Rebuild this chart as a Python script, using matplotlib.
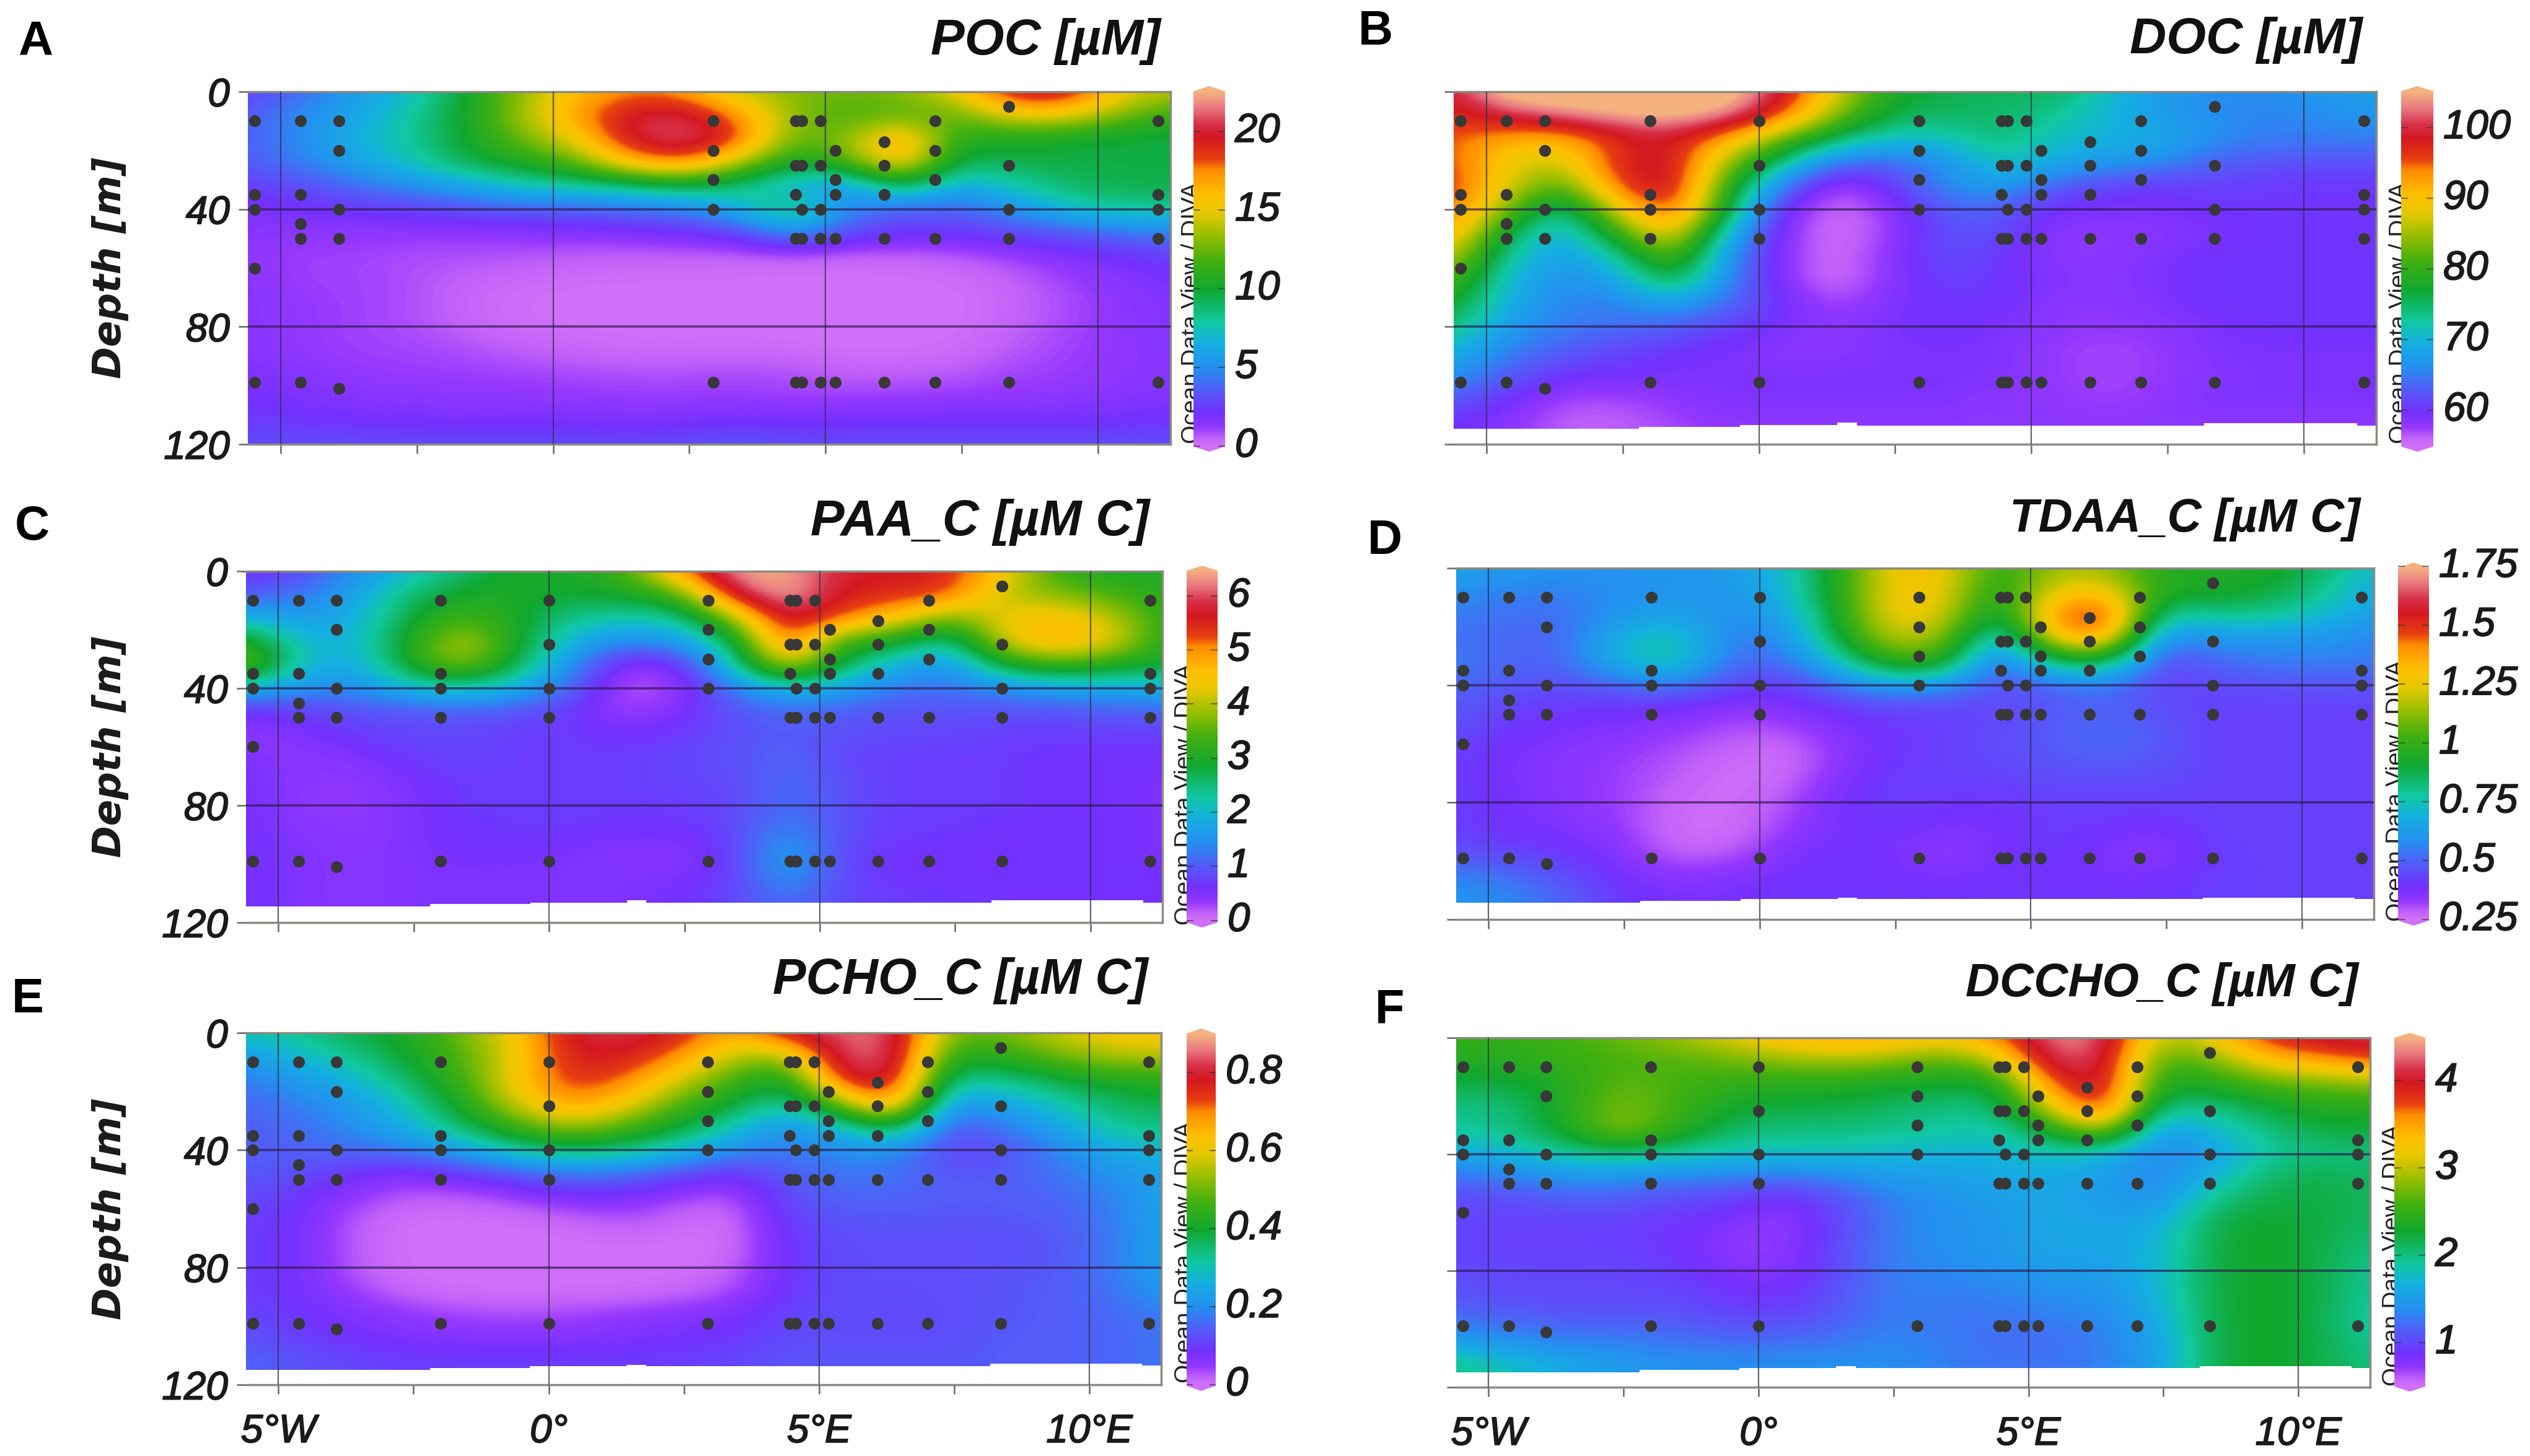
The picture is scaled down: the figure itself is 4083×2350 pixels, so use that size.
import numpy as np
import matplotlib
matplotlib.use("Agg")
import matplotlib.pyplot as plt
import matplotlib.patheffects as pe
from matplotlib.colors import LinearSegmentedColormap
from matplotlib.patches import Polygon

plt.rcParams['font.family'] = ['Liberation Sans', 'DejaVu Sans']

W, H = 4083, 2350

# grid of the fields: longitude columns and depth rows
lon_nodes = [-5.6, -4.6, -3.6, -2.6, -1.6, -0.6, 0.4, 1.4, 2.4, 3.4, 4.4, 5.4, 6.4, 7.4, 8.4, 9.4, 10.4, 11.4]
depth_nodes = [0, 8, 16, 24, 32, 40, 48, 56, 64, 72, 80, 88, 96, 104, 112, 120]

poc = [
    [2.5, 4, 5.5, 7, 10, 13, 16, 17.5, 17, 14, 13, 12.5, 13, 15, 20, 20.5, 15, 14],
    [3.5, 5, 6, 8, 10, 13.5, 17, 20, 20.5, 17.5, 13, 11.5, 12, 12, 15, 15, 13, 11],
    [3.5, 5, 6.5, 8, 10, 12.5, 15, 20, 21.5, 19, 12, 13, 18, 10.5, 10.5, 10, 9.5, 9.5],
    [3.5, 4.5, 6, 7.5, 9.5, 10.5, 12, 16.5, 18, 14, 10, 12, 17, 9, 9.5, 9.5, 9.5, 9.5],
    [2.5, 3, 4, 5, 6, 7.5, 8, 8.5, 9.5, 8.5, 6, 5, 10, 6, 7.5, 9, 9.5, 9.5],
    [1.8, 2, 2.3, 2.5, 3, 3.5, 3.5, 4, 4.5, 6.5, 10, 4.5, 3.5, 3.5, 5, 7, 8, 8],
    [1.5, 1.3, 1.3, 1.2, 1.2, 1.3, 1.5, 1.5, 2, 2.5, 5.5, 3, 2.3, 2.3, 2.8, 3.2, 4, 4.5],
    [1.3, 1, 1, 0.8, 0.8, 0.7, 0.5, 0.4, 0.4, 0.3, 0.3, 0.2, 0.3, 0.5, 1, 1.5, 2, 2.5],
    [1.5, 1, 1, 0.8, 0.4, 0.2, 0.1, 0.05, 0.05, 0.05, 0, 0, 0, 0.05, 0.4, 1, 1.5, 2],
    [1.5, 1.2, 1, 0.8, 0.3, 0.05, 0, 0, 0, 0, 0, 0, 0, 0, 0.3, 0.8, 1.3, 1.7],
    [1.5, 1.2, 1, 0.8, 0.4, 0.1, 0.05, 0, 0, 0, 0, 0, 0, 0, 0.4, 0.9, 1.3, 1.7],
    [1.5, 1.2, 1, 1, 0.8, 0.5, 0.3, 0.15, 0.15, 0.2, 0.1, 0, 0, 0.1, 0.6, 1, 1.3, 1.6],
    [1.8, 1.5, 1.2, 1.1, 1.1, 1, 0.9, 0.8, 0.8, 0.9, 0.8, 0.5, 0.5, 0.6, 1, 1.1, 1.3, 1.5],
    [2, 1.8, 1.5, 1.4, 1.3, 1.3, 1.2, 1.1, 1.1, 1.1, 1, 1, 1.1, 1.2, 1.2, 1.3, 1.5, 1.7],
    [2.5, 2.2, 2, 1.9, 1.8, 1.8, 1.8, 1.7, 1.8, 1.9, 1.9, 2, 2, 2, 2, 2, 2, 2.2],
    [3, 3, 3, 3, 3, 3, 3, 3, 3, 3.5, 3, 3, 3, 3, 3, 3, 3, 3],
]
doc = [
    [99, 108, 108, 108, 108, 108, 100, 88, 78, 76, 75, 76, 71, 67, 66, 66, 67, 68],
    [97, 100, 103, 105, 106, 104, 96, 84, 76, 75, 75, 73, 70, 67, 66, 65, 66, 67],
    [95, 92, 91, 97, 99, 92, 83, 75, 71, 71, 75, 71, 70, 69, 66, 65, 65, 65],
    [96, 88, 86, 98, 100, 85, 74, 64, 63, 66, 72, 69, 67, 66, 63, 62, 62, 62],
    [97, 88, 80, 96, 101, 80, 65, 56, 60, 66, 68, 63, 61, 60, 61, 60, 60, 60],
    [96, 83, 72, 88, 98, 78, 59, 55, 57.5, 63, 63, 59, 59, 59, 60, 60, 60, 60],
    [92, 76, 68, 80, 92, 70, 58, 55, 57, 62, 62, 58, 58, 58, 59, 60, 60, 60],
    [87, 72, 67, 72, 84, 67, 58, 55, 58, 62, 60, 58, 58, 59, 60, 60, 60, 60],
    [82, 70, 66, 68, 78, 66, 58, 55, 58, 61, 60, 59, 58, 59, 60, 60, 60, 60],
    [78, 69, 65, 65, 68, 64, 60, 56.5, 59, 60, 60, 58, 58, 59, 60, 60, 60, 60],
    [75, 67, 65, 64, 63, 61, 59, 58, 59, 60, 59, 58, 57.5, 58, 59, 60, 60, 60],
    [70, 65, 63, 61, 60, 59, 58, 58, 59, 59, 59, 57.5, 57, 57.5, 59, 59, 59, 59],
    [67, 63, 60, 60, 59, 59, 59, 59, 59, 59, 59, 57.5, 57, 57.5, 58.5, 59, 59, 59],
    [63, 60, 57, 57, 58, 59, 59, 59, 59, 59, 58, 58, 57, 58, 59, 59, 59, 59],
    [60, 58, 56, 56, 57, 58, 58, 58, 58, 58, 58, 58, 58, 58, 58, 58, 58, 58],
    [60, 58, 56, 56, 57, 58, 58, 58, 58, 58, 58, 58, 58, 58, 58, 58, 58, 58],
]
paa = [
    [0.5, 0.8, 1.4, 2, 2.5, 3, 3, 3.3, 5, 6.5, 6.5, 5.7, 5.7, 5.5, 4.5, 3.2, 3, 3],
    [1, 1.2, 1.7, 2.5, 3, 3, 2.8, 3, 3.3, 5.8, 6.6, 5.6, 5.5, 5.4, 4, 3.7, 3.4, 3.1],
    [1.9, 1.6, 1.8, 2.8, 3.4, 3, 2.4, 2.2, 2.3, 3.8, 6, 5.2, 4.6, 3.5, 4.4, 4.7, 4.1, 3.1],
    [3.2, 2, 1.9, 3, 4.2, 3, 1.9, 1.4, 1.6, 2.6, 5.6, 3.2, 3, 2.2, 4.3, 4.9, 4.4, 3],
    [3.8, 2.1, 1.7, 3, 4, 2.7, 1.5, 0.3, 0.5, 2.2, 4.5, 2.7, 1.9, 1.4, 3, 3.4, 3.1, 2.9],
    [2, 1.5, 1.4, 2, 2.2, 1.9, 1.1, 0.1, 0.25, 1.3, 2, 1.7, 1.2, 1.2, 1.4, 1.7, 1.8, 1.8],
    [0.5, 0.7, 0.9, 0.9, 1, 0.9, 0.7, 0.25, 0.5, 0.9, 1.1, 1, 0.9, 0.9, 0.9, 0.9, 1, 1.1],
    [0.4, 0.45, 0.7, 0.8, 0.8, 0.7, 0.7, 0.6, 0.7, 0.9, 1, 0.9, 0.8, 0.8, 0.7, 0.7, 0.7, 0.7],
    [0.5, 0.4, 0.45, 0.7, 0.8, 0.7, 0.7, 0.7, 0.8, 0.9, 1.1, 0.8, 0.7, 0.7, 0.7, 0.6, 0.6, 0.6],
    [0.6, 0.4, 0.35, 0.5, 0.7, 0.7, 0.7, 0.7, 0.8, 0.8, 1.2, 0.9, 0.7, 0.7, 0.7, 0.6, 0.6, 0.5],
    [0.6, 0.35, 0.35, 0.5, 0.7, 0.7, 0.7, 0.7, 0.7, 0.8, 1.2, 0.9, 0.7, 0.7, 0.7, 0.6, 0.6, 0.5],
    [0.6, 0.45, 0.35, 0.5, 0.6, 0.7, 0.7, 0.6, 0.6, 0.8, 1.4, 0.9, 0.7, 0.7, 0.6, 0.6, 0.6, 0.5],
    [0.6, 0.5, 0.4, 0.5, 0.6, 0.6, 0.5, 0.45, 0.4, 0.7, 1.8, 0.8, 0.6, 0.6, 0.6, 0.6, 0.6, 0.5],
    [0.6, 0.5, 0.4, 0.5, 0.5, 0.5, 0.5, 0.5, 0.5, 0.7, 1.7, 0.8, 0.6, 0.6, 0.6, 0.6, 0.6, 0.6],
    [0.6, 0.5, 0.4, 0.5, 0.5, 0.5, 0.5, 0.5, 0.6, 0.8, 1.2, 0.8, 0.7, 0.7, 0.6, 0.6, 0.6, 0.6],
    [0.6, 0.5, 0.4, 0.5, 0.5, 0.5, 0.5, 0.5, 0.6, 0.8, 1.2, 0.8, 0.7, 0.7, 0.6, 0.6, 0.6, 0.6],
]
tdaa = [
    [0.65, 0.62, 0.6, 0.6, 0.6, 0.62, 0.7, 0.95, 1.27, 1.3, 0.95, 1.15, 1.15, 0.95, 0.95, 0.95, 0.85, 0.7],
    [0.58, 0.55, 0.55, 0.58, 0.6, 0.6, 0.68, 0.95, 1.28, 1.28, 0.9, 1.25, 1.3, 0.95, 0.95, 0.9, 0.8, 0.65],
    [0.55, 0.52, 0.52, 0.6, 0.65, 0.58, 0.62, 0.92, 1.28, 1.25, 0.8, 1.45, 1.6, 0.75, 0.8, 0.8, 0.72, 0.62],
    [0.52, 0.5, 0.5, 0.7, 0.78, 0.55, 0.55, 0.88, 1.2, 1.15, 0.6, 1.3, 1.4, 0.55, 0.6, 0.6, 0.6, 0.55],
    [0.55, 0.5, 0.5, 0.7, 0.8, 0.52, 0.5, 0.72, 1, 1, 0.45, 0.85, 0.9, 0.42, 0.5, 0.55, 0.55, 0.55],
    [0.5, 0.48, 0.45, 0.5, 0.55, 0.45, 0.4, 0.52, 0.65, 0.6, 0.45, 0.5, 0.55, 0.42, 0.45, 0.45, 0.47, 0.47],
    [0.48, 0.42, 0.4, 0.4, 0.38, 0.33, 0.35, 0.4, 0.42, 0.42, 0.43, 0.47, 0.5, 0.45, 0.42, 0.42, 0.42, 0.42],
    [0.45, 0.4, 0.37, 0.35, 0.33, 0.3, 0.29, 0.35, 0.4, 0.42, 0.45, 0.48, 0.52, 0.48, 0.42, 0.42, 0.42, 0.42],
    [0.42, 0.37, 0.35, 0.33, 0.3, 0.27, 0.25, 0.33, 0.4, 0.42, 0.45, 0.47, 0.5, 0.47, 0.42, 0.42, 0.42, 0.42],
    [0.42, 0.37, 0.35, 0.32, 0.29, 0.25, 0.26, 0.35, 0.42, 0.42, 0.42, 0.45, 0.45, 0.45, 0.42, 0.42, 0.42, 0.42],
    [0.42, 0.38, 0.35, 0.32, 0.27, 0.25, 0.29, 0.38, 0.42, 0.4, 0.4, 0.42, 0.42, 0.42, 0.42, 0.42, 0.42, 0.42],
    [0.42, 0.38, 0.37, 0.33, 0.26, 0.25, 0.31, 0.38, 0.4, 0.37, 0.37, 0.42, 0.4, 0.38, 0.43, 0.42, 0.42, 0.42],
    [0.45, 0.42, 0.4, 0.35, 0.27, 0.27, 0.35, 0.4, 0.38, 0.33, 0.38, 0.42, 0.36, 0.33, 0.42, 0.42, 0.42, 0.42],
    [0.55, 0.5, 0.45, 0.38, 0.33, 0.35, 0.38, 0.4, 0.38, 0.36, 0.38, 0.4, 0.37, 0.37, 0.42, 0.42, 0.42, 0.42],
    [0.6, 0.57, 0.5, 0.4, 0.38, 0.38, 0.4, 0.4, 0.4, 0.4, 0.4, 0.4, 0.4, 0.4, 0.42, 0.42, 0.42, 0.42],
    [0.6, 0.57, 0.5, 0.4, 0.38, 0.38, 0.4, 0.4, 0.4, 0.4, 0.4, 0.4, 0.4, 0.4, 0.42, 0.42, 0.42, 0.42],
]
pcho = [
    [0.3, 0.33, 0.38, 0.42, 0.5, 0.62, 0.8, 0.82, 0.78, 0.65, 0.8, 0.85, 0.85, 0.5, 0.5, 0.58, 0.62, 0.64],
    [0.22, 0.28, 0.33, 0.4, 0.48, 0.6, 0.78, 0.78, 0.7, 0.55, 0.52, 0.85, 0.85, 0.42, 0.44, 0.5, 0.55, 0.55],
    [0.17, 0.22, 0.27, 0.36, 0.46, 0.62, 0.76, 0.72, 0.58, 0.47, 0.38, 0.78, 0.82, 0.32, 0.33, 0.38, 0.42, 0.44],
    [0.15, 0.18, 0.22, 0.3, 0.42, 0.58, 0.7, 0.62, 0.48, 0.4, 0.3, 0.52, 0.74, 0.2, 0.24, 0.3, 0.36, 0.38],
    [0.14, 0.16, 0.2, 0.26, 0.36, 0.46, 0.55, 0.48, 0.4, 0.3, 0.2, 0.28, 0.42, 0.12, 0.17, 0.24, 0.32, 0.34],
    [0.14, 0.15, 0.16, 0.18, 0.24, 0.32, 0.36, 0.34, 0.28, 0.2, 0.17, 0.2, 0.2, 0.1, 0.12, 0.18, 0.25, 0.28],
    [0.14, 0.12, 0.08, 0.06, 0.09, 0.13, 0.17, 0.16, 0.12, 0.08, 0.14, 0.17, 0.17, 0.13, 0.14, 0.17, 0.2, 0.24],
    [0.12, 0.09, 0.05, 0.02, 0.02, 0.04, 0.07, 0.07, 0.04, 0.02, 0.12, 0.15, 0.15, 0.14, 0.14, 0.15, 0.18, 0.24],
    [0.1, 0.08, 0.02, 0, 0, 0, 0.01, 0.03, 0.01, 0, 0.1, 0.13, 0.13, 0.13, 0.13, 0.14, 0.17, 0.24],
    [0.1, 0.08, 0.02, 0, 0, 0, 0, 0, 0, 0, 0.09, 0.12, 0.12, 0.12, 0.12, 0.13, 0.17, 0.24],
    [0.1, 0.08, 0.02, 0, 0, 0, 0, 0, 0, 0.01, 0.09, 0.12, 0.12, 0.12, 0.13, 0.13, 0.17, 0.24],
    [0.1, 0.08, 0.04, 0.01, 0, 0, 0, 0, 0.01, 0.03, 0.09, 0.12, 0.12, 0.12, 0.13, 0.14, 0.16, 0.22],
    [0.11, 0.09, 0.07, 0.05, 0.04, 0.03, 0.04, 0.05, 0.06, 0.07, 0.11, 0.12, 0.11, 0.12, 0.13, 0.14, 0.15, 0.18],
    [0.13, 0.1, 0.08, 0.07, 0.06, 0.06, 0.06, 0.07, 0.08, 0.09, 0.12, 0.12, 0.12, 0.12, 0.14, 0.14, 0.15, 0.17],
    [0.15, 0.13, 0.11, 0.1, 0.1, 0.1, 0.1, 0.1, 0.1, 0.11, 0.13, 0.13, 0.13, 0.13, 0.14, 0.14, 0.15, 0.17],
    [0.15, 0.13, 0.11, 0.1, 0.1, 0.1, 0.1, 0.1, 0.1, 0.11, 0.13, 0.13, 0.13, 0.13, 0.14, 0.14, 0.15, 0.17],
]
dccho = [
    [2.5, 2.5, 2.6, 2.7, 2.9, 3.1, 3.4, 3.5, 3.5, 3.3, 3.6, 4.4, 4.3, 2.9, 3.2, 3.9, 4.1, 4.2],
    [2.4, 2.4, 2.5, 2.6, 2.6, 2.7, 2.8, 2.9, 2.8, 2.6, 2.9, 4.2, 4.2, 2.5, 2.7, 3.3, 3.5, 3.7],
    [2.2, 2.2, 2.4, 2.7, 2.6, 2.5, 2.4, 2.4, 2.3, 2.3, 2.2, 3.7, 4.2, 2.3, 2.4, 2.6, 2.7, 2.8],
    [2, 2, 2.4, 2.8, 2.6, 2.3, 2.2, 2.2, 2.1, 2, 2, 3.1, 4.1, 1.9, 2, 2.2, 2.4, 2.4],
    [1.9, 2, 2.3, 2.9, 2.5, 2.1, 2, 2, 2, 1.9, 1.8, 2.3, 3, 1.4, 1.7, 2, 2.2, 2.2],
    [1.6, 1.7, 1.9, 2, 1.9, 1.8, 1.8, 1.8, 1.7, 1.7, 1.7, 1.8, 1.7, 1.3, 1.5, 1.9, 2, 2],
    [1.2, 1.3, 1.4, 1.4, 1.3, 1.3, 1.2, 1.3, 1.5, 1.5, 1.6, 1.6, 1.5, 1.3, 1.7, 2.1, 2.2, 2.1],
    [1, 1, 1.1, 1.1, 1, 0.95, 0.8, 1, 1.3, 1.4, 1.5, 1.6, 1.5, 1.4, 2, 2.2, 2.2, 2.1],
    [1, 0.95, 0.95, 0.95, 0.9, 0.8, 0.7, 0.95, 1.3, 1.4, 1.45, 1.6, 1.55, 1.6, 2.2, 2.3, 2.2, 2.1],
    [1, 0.95, 0.95, 0.95, 0.9, 0.75, 0.7, 1, 1.3, 1.4, 1.45, 1.6, 1.55, 1.7, 2.2, 2.3, 2.2, 2],
    [1, 1, 1, 1, 0.95, 0.8, 0.75, 1, 1.3, 1.35, 1.4, 1.5, 1.5, 1.7, 2.2, 2.3, 2.2, 1.9],
    [1.1, 1, 1, 1, 1, 0.9, 0.85, 1.05, 1.3, 1.3, 1.3, 1.4, 1.4, 1.7, 2.2, 2.3, 2.2, 1.9],
    [1.2, 1.15, 1.1, 1.1, 1.1, 1, 1, 1.1, 1.3, 1.25, 1.25, 1.3, 1.35, 1.6, 2.2, 2.3, 2.2, 1.8],
    [1.5, 1.4, 1.3, 1.3, 1.25, 1.2, 1.2, 1.25, 1.35, 1.3, 1.2, 1.2, 1.3, 1.5, 2.2, 2.3, 2.2, 1.9],
    [2, 1.8, 1.6, 1.5, 1.4, 1.4, 1.4, 1.4, 1.4, 1.3, 1.25, 1.25, 1.3, 1.5, 2.2, 2.3, 2.2, 2],
    [2, 1.8, 1.6, 1.5, 1.4, 1.4, 1.4, 1.4, 1.4, 1.3, 1.25, 1.25, 1.3, 1.5, 2.2, 2.3, 2.2, 2],
]

# sampling stations: longitude and the depths sampled there
station_lon = [-5.47, -4.63, -3.93, -2.0, 0.0, 2.94, 4.45, 4.57, 4.91, 5.18, 6.08, 7.01, 8.36, 11.1]
station_depths = [
    [10, 35, 40, 60, 99],
    [10, 35, 45, 50, 99],
    [10, 20, 40, 50, 101],
    [10, 35, 40, 50, 99],
    [10, 25, 40, 50, 99],
    [10, 20, 30, 40, 99],
    [10, 25, 35, 50, 99],
    [10, 25, 40, 50, 99],
    [10, 25, 40, 50, 99],
    [20, 30, 35, 50, 99],
    [17, 25, 35, 50, 99],
    [10, 20, 30, 50, 99],
    [5, 25, 40, 50, 99],
    [10, 35, 40, 50, 99],
]

# lower edge of the gridded area (steps)
bottom_lon = [-5.6, -2.2, -0.35, 1.44, 1.8, 8.17, 10.98, 11.4]
bottom_b = [114.8, 114, 113.4, 112.7, 113.7, 112.9, 113.6, 113.6]
bottom_c = [114.4, 113.7, 113.2, 112.4, 113.2, 112.4, 113.2, 113.2]
bottom_d = [114.2, 113.7, 113, 112.5, 113.1, 112.5, 113.1, 113.1]
bottom_e = [115, 114.4, 113.6, 113.2, 113.6, 112.8, 113.4, 113.4]
bottom_f = [114.9, 114.1, 113.5, 112.7, 113.5, 112.7, 113.3, 113.3]

titles = ['POC [µM]', 'DOC [µM]', 'PAA_C [µM C]', 'TDAA_C [µM C]', 'PCHO_C [µM C]', 'DCCHO_C [µM C]']
title_sizes = [59, 59, 59, 55, 58, 55]
letters = ['A', 'B', 'C', 'D', 'E', 'F']
cbar_ticks = [
    ([0, 5, 10, 15, 20], ['0', '5', '10', '15', '20']),
    ([60, 70, 80, 90, 100], ['60', '70', '80', '90', '100']),
    ([0, 1, 2, 3, 4, 5, 6], ['0', '1', '2', '3', '4', '5', '6']),
    ([0.25, 0.5, 0.75, 1, 1.25, 1.5, 1.75], ['0.25', '0.5', '0.75', '1', '1.25', '1.5', '1.75']),
    ([0, 0.2, 0.4, 0.6, 0.8], ['0', '0.2', '0.4', '0.6', '0.8']),
    ([1, 2, 3, 4], ['1', '2', '3', '4']),
]

odv = LinearSegmentedColormap.from_list('odv', [
    (0.00, '#D070F8'), (0.02, '#C060FA'), (0.05, '#9438FF'), (0.09, '#7430FF'), (0.16, '#5060F8'),
    (0.22, '#2490F0'), (0.29, '#14B0E0'), (0.35, '#10C8A0'), (0.44, '#10A830'),
    (0.52, '#40B010'), (0.60, '#A0C000'), (0.66, '#E8C800'), (0.71, '#FFC000'),
    (0.78, '#FF8C00'), (0.81, '#E84010'), (0.87, '#D41820'), (0.91, '#D83048'),
    (0.955, '#E87880'), (1.00, '#F5B080'),
])

# one entry per panel, everything in pixels of the final picture
panels = [
    dict(z=poc, vmin=0, vmax=22.5, box=(400, 148, 1889, 717), bottom=None, cb=(1926, 139, 1977, 729, -0.35, 22.87),
         title=(1873, 67), letter=(57, 68), odv=505, stations=[0, 1, 2, 5, 6, 7, 8, 9, 10, 11, 12, 13]),
    dict(z=doc, vmin=55, vmax=105, box=(2346, 148, 3835, 717), bottom=bottom_b, cb=(3875, 139, 3927, 729, 54.1, 105.9),
         title=(3812, 65), letter=(2220, 52), odv=505, stations=list(range(14))),
    dict(z=paa, vmin=0, vmax=6.5, box=(397, 922, 1876, 1489), bottom=bottom_c, cb=(1915, 913, 1965, 1497, -0.13, 6.56),
         title=(1855, 843), letter=(52, 851), odv=1282, stations=list(range(14))),
    dict(z=tdaa, vmin=0.25, vmax=1.75, box=(2350, 917, 3831, 1484), bottom=bottom_d, cb=(3870, 908, 3920, 1494, 0.224, 1.766),
         title=(3809, 838), letter=(2235, 873), odv=1276, stations=list(range(14))),
    dict(z=pcho, vmin=0, vmax=0.9, box=(397, 1667, 1874, 2235), bottom=bottom_e, cb=(1915, 1660, 1962, 2245, -0.016, 0.913),
         title=(1852, 1583), letter=(45, 1614), odv=2021, stations=list(range(14))),
    dict(z=dccho, vmin=0.5, vmax=4.5, box=(2350, 1675, 3825, 2239), bottom=bottom_f, cb=(3864, 1667, 3914, 2246, 0.44, 4.55),
         title=(3805, 1588), letter=(2242, 1631), odv=2026, stations=list(range(14))),
]

fig = plt.figure(figsize=(W / 100, H / 100), dpi=100)
heavy = [pe.withStroke(linewidth=1.3, foreground='#1a1a1a')]


def px_axes(x0, y0, x1, y1):
    return fig.add_axes([x0 / W, 1 - y1 / H, (x1 - x0) / W, (y1 - y0) / H])


for i, p in enumerate(panels):
    ax = px_axes(*p['box'])
    half = 0.5
    ax.imshow(np.array(p['z'], dtype=float), cmap=odv, vmin=p['vmin'], vmax=p['vmax'], aspect='auto',
              interpolation='bicubic',
              extent=[lon_nodes[0] - half, lon_nodes[-1] + half, depth_nodes[-1] + 4, depth_nodes[0] - 4], zorder=1)
    if p['bottom'] is not None:
        ax.fill_between(bottom_lon, p['bottom'], 121, step='post', color='white', lw=0, zorder=2)
    ax.set_xlim(-5.6, 11.33)
    ax.set_ylim(120, 0)

    # grid lines
    for lon in [-5, 0, 5, 10]:
        ax.axvline(lon, color='#30304a', lw=1.6, alpha=0.75, zorder=3)
    for d in [40, 80]:
        ax.axhline(d, color='#301a50', lw=2.6, alpha=0.7, zorder=3)

    # stations
    for k in p['stations']:
        ds = station_depths[k]
        ax.scatter([station_lon[k]] * len(ds), ds, s=190, color='#383838', lw=0, zorder=4)

    for side in ax.spines.values():
        side.set_color('#8a8a80')
        side.set_linewidth(2.5)
    ax.spines['left'].set_visible(False)
    ax.set_xticks([-5, 0, 5, 10])
    ax.set_xticks([-2.5, 2.5, 7.5], minor=True)
    ax.set_yticks([0, 40, 80, 120])
    ax.tick_params(axis='both', which='both', color='#666666', width=1.8, length=11)
    ax.tick_params(axis='x', pad=22)
    ax.tick_params(axis='y', pad=10)
    if i >= 4:
        ax.set_xticklabels(['5°W', '0°', '5°E', '10°E'], fontsize=46, style='italic', color='#1a1a1a', path_effects=heavy)
    else:
        ax.set_xticklabels([])
    if i % 2 == 0:
        ax.set_yticklabels(['0', '40', '80', '120'], fontsize=46, style='italic', color='#1a1a1a', path_effects=heavy)
        fig.text(178 / W, 1 - (p['box'][1] + p['box'][3]) / 2 / H, 'Depth [m]', rotation=90, ha='center', va='center',
                 family='DejaVu Sans', weight='bold', style='italic', fontsize=45, color='#1a1a1a')
    else:
        ax.set_yticklabels([])

    # colour bar with pointed ends
    cx0, cy0, cx1, cy1, lo, hi = p['cb']
    cax = px_axes(cx0, cy0, cx1, cy1)
    grad = np.linspace(hi, lo, 400).reshape(-1, 1)
    im = cax.imshow(grad, cmap=odv, vmin=p['vmin'], vmax=p['vmax'], aspect='auto', extent=[0, 1, lo, hi])
    outline = Polygon([(0, 0.014), (0, 0.986), (0.5, 1), (1, 0.986), (1, 0.014), (0.5, 0)], closed=True,
                      transform=cax.transAxes, fc='none', ec='none')
    cax.add_patch(outline)
    im.set_clip_path(outline)
    cax.set_axis_off()
    ticks, tick_labels = cbar_ticks[i]
    for v, lab in zip(ticks, tick_labels):
        cax.plot([0.02, 0.2], [v, v], color='#303030', lw=1.5, alpha=0.6)
        cax.plot([0.8, 0.98], [v, v], color='#303030', lw=1.5, alpha=0.6)
        cy = cy1 - (v - lo) / (hi - lo) * (cy1 - cy0)
        fig.text((cx1 + 16) / W, 1 - cy / H, lab, ha='left', va='center', fontsize=47, style='italic',
                 color='#1a1a1a', path_effects=heavy)

    fig.text((cx0 - 2) / W, 1 - p['odv'] / H, 'Ocean Data View / DIVA', rotation=90, ha='center', va='center',
             fontsize=28, color='#222222', zorder=-1)

    fig.text(p['title'][0] / W, 1 - p['title'][1] / H, titles[i], ha='right', va='center', fontsize=title_sizes[i],
             weight='bold', style='italic', color='#111111')
    fig.text(p['letter'][0] / W, 1 - p['letter'][1] / H, letters[i], ha='center', va='center', fontsize=56,
             weight='bold', color='black')

fig.savefig('out.png', dpi=100, facecolor='white')
